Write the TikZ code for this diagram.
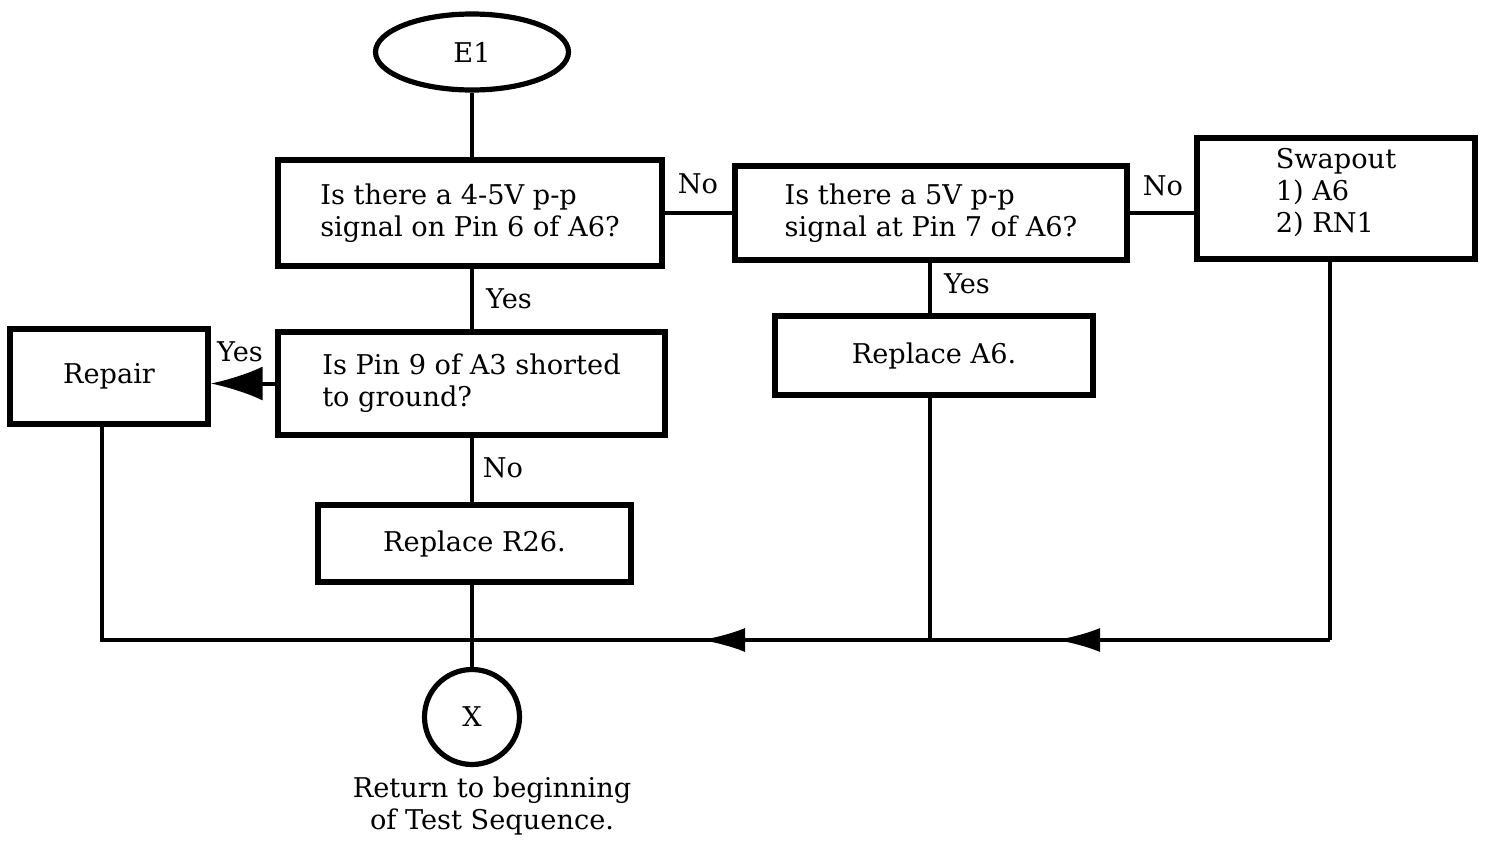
\documentclass[tikz,border=0pt]{standalone}
\usepackage{fontspec}
\setmainfont{DejaVu Serif}
\usetikzlibrary{shapes.geometric,arrows.meta,decorations.markings}
\begin{document}
\begin{tikzpicture}[x=0.5pt,y=-0.5pt,
  txt/.style={font=\fontsize{13.6}{16}\selectfont},
  box/.style={draw,line width=2.6pt,rectangle,inner sep=0pt,align=left,txt},
  conn/.style={line width=2pt},
  lbl/.style={txt,inner sep=0pt},
  busarrow/.style={postaction={decorate},decoration={markings,
     mark=at position #1 with {\arrow{Latex[length=22pt,width=12pt]}}}}
]
\useasboundingbox (0,0) rectangle (1485,841);

% nodes
\node[draw,line width=2.6pt,ellipse,minimum width=96.5pt,minimum height=38pt,txt,inner sep=0pt] (e1) at (472,52) {E1};
\node[box,minimum width=192pt,minimum height=53pt] (b1) at (470,213) {Is there a 4-5V p-p\\signal on Pin 6 of A6?};
\node[box,minimum width=196pt,minimum height=47pt] (b2) at (931,213) {Is there a 5V p-p\\signal at Pin 7 of A6?};
\node[box,minimum width=139pt,minimum height=60.5pt] (sw) at (1336,198.5) {Swapout\\1) A6\\2) RN1\\[-8pt]};
\node[box,minimum width=193.5pt,minimum height=51.5pt] (b4) at (471.5,383.5) {Is Pin 9 of A3 shorted\\to ground?};
\node[box,minimum width=99pt,minimum height=47.5pt] (rep) at (109,376.5) {Repair};
\node[box,minimum width=156.5pt,minimum height=38.5pt] (r26) at (474.5,543.5) {Replace R26.};
\node[box,minimum width=159pt,minimum height=39.5pt] (a6) at (934,355.5) {Replace A6.};
\node[draw,line width=2.6pt,circle,minimum size=47.5pt,txt,inner sep=0pt] (x) at (472,717) {X};
\node[txt,align=center,inner sep=0pt] (ret) at (492,806) {Return to beginning\\of Test Sequence.};

% labels
\node[lbl] (lno1) at (698,184) {No};
\node[lbl] (lno2) at (1163,186) {No};
\node[lbl] (lyes1) at (509,299) {Yes};
\node[lbl] (lyes2) at (240,352) {Yes};
\node[lbl] (lno3) at (503,468) {No};
\node[lbl] (lyes3) at (967,284) {Yes};

% bus coordinates
\coordinate (busL) at (102,640);
\coordinate (jX) at (472,640);
\coordinate (j6) at (930,640);
\coordinate (busR) at (1330,640);

% connectors
\draw[conn] (e1.south) -- (e1.south |- b1.north);
\draw[conn] (b1.east) -- (b2.west);
\draw[conn] (b2.east) -- (b2.east -| sw.west);
\draw[conn] (e1.south |- b1.south) -- (e1.south |- b4.north);
\draw[conn,-{Latex[length=26pt,width=17pt]}] (b4.west) -- (b4.west -| rep.east);
\draw[conn] (e1.south |- b4.south) -- (e1.south |- r26.north);
\draw[conn] (j6 |- b2.south) -- (j6 |- a6.north);
\draw[conn] (jX |- r26.south) -- (x.north);
\draw[conn] (busL |- rep.south) -- (busL) -- (jX);
\draw[conn] (j6 |- a6.south) -- (j6);
\draw[conn,busarrow=0.5] (j6) -- (jX);
\draw[conn] (busR |- sw.south) -- (busR);
\draw[conn,busarrow=0.685] (busR) -- (j6);
\end{tikzpicture}
\end{document}
